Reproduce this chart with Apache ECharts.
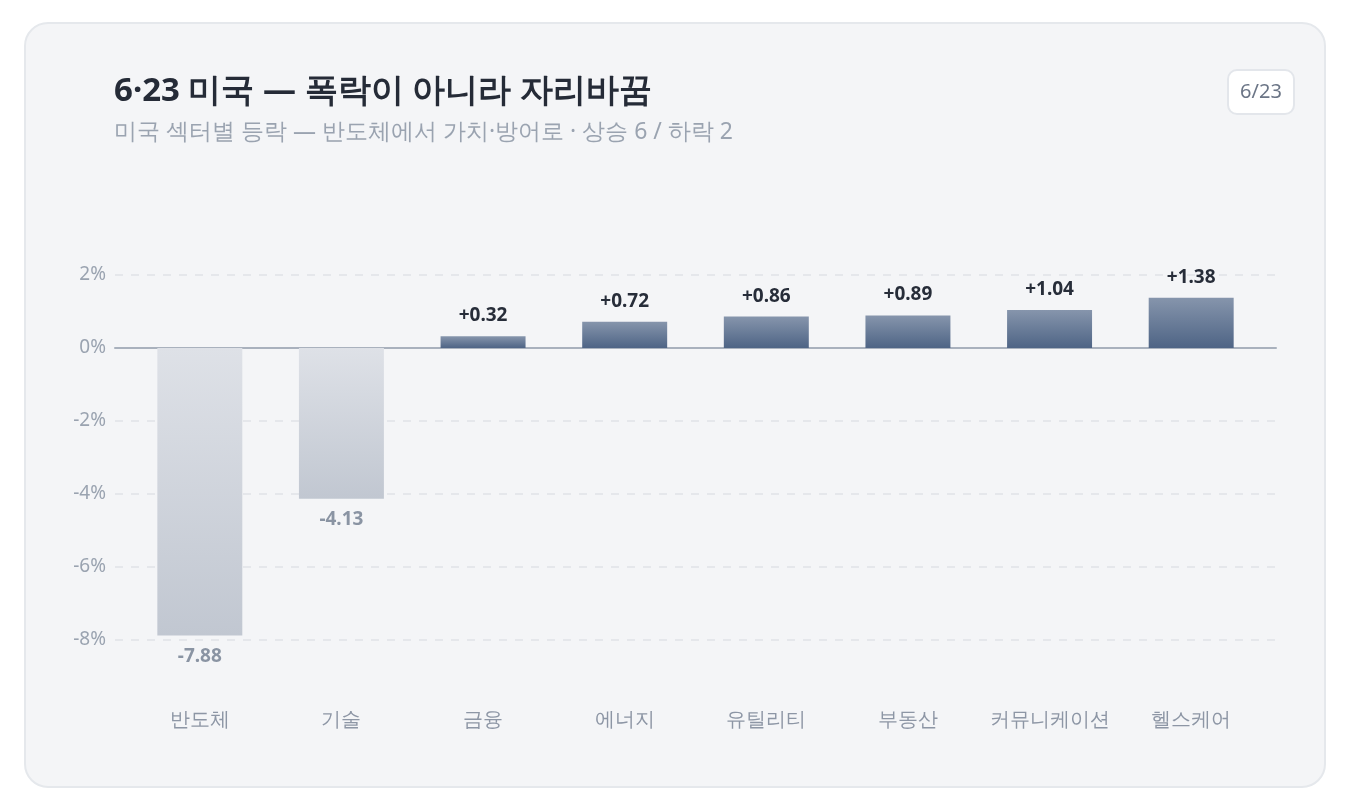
<!DOCTYPE html>
<html>
<head>
<meta charset="utf-8">
<script src="https://cdn.jsdelivr.net/npm/echarts@6/dist/echarts.min.js"></script>
<style>
  html, body { margin: 0; padding: 0; background: #ffffff; }
  .card {
    position: absolute; left: 24px; top: 22px;
    width: 1298px; height: 762px;
    border: 2px solid #e5e8ec; border-radius: 24px;
    background: #f4f5f7;
  }
  #chart { position: absolute; left: 0; top: 0; width: 1350px; height: 810px; }
</style>
</head>
<body>
<div class="card"></div>
<div id="chart"></div>
<script>
// 섹터별 등락 (%)
const sectors = ["반도체", "기술", "금융", "에너지", "유틸리티", "부동산", "커뮤니케이션", "헬스케어"];
const changes = [-7.88, -4.13, 0.32, 0.72, 0.86, 0.89, 1.04, 1.38];
const yTicks = [-10, -8, -6, -4, -2, 0, 2];

const FONT = '"Noto Sans", sans-serif';

const chart = echarts.init(document.getElementById("chart"));

const upColor = new echarts.graphic.LinearGradient(0, 0, 0, 1, [
  { offset: 0, color: "#8695ac" },
  { offset: 1, color: "#4e6485" }
]);
const downColor = new echarts.graphic.LinearGradient(0, 0, 0, 1, [
  { offset: 0, color: "#dee1e7" },
  { offset: 1, color: "#c1c7d1" }
]);

const barData = changes.map(v => ({
  value: v,
  itemStyle: { color: v >= 0 ? upColor : downColor },
  label: {
    position: v >= 0 ? "top" : "bottom",
    color: v >= 0 ? "#272d39" : "#8a94a3",
    formatter: (v >= 0 ? "+" : "") + v.toFixed(2)
  }
}));

const yRange = { min: yTicks[0], max: yTicks[yTicks.length - 1], interval: 2 };

const option = {
  textStyle: { fontFamily: FONT },
  graphic: [
    { type: "text", left: 114, top: 75,
      style: { text: "6·23 미국 — 폭락이 아니라 자리바꿈", fontFamily: FONT, fontSize: 33, fontWeight: "bold", fill: "#252b37" } },
    { type: "text", left: 114, top: 121,
      style: { text: "미국 섹터별 등락 — 반도체에서 가치·방어로 · 상승 6 / 하락 2", fontFamily: FONT, fontSize: 23, fill: "#9aa3b0" } },
    { type: "group", left: 1227, top: 69,
      children: [
        { type: "rect", shape: { x: 0, y: 0, width: 66, height: 44, r: 9 },
          style: { fill: "#ffffff", stroke: "#e3e6eb", lineWidth: 2 } },
        { type: "text", x: 33, y: 22,
          style: { text: "6/23", fontFamily: FONT, fontSize: 20, fill: "#6b7586", align: "center", verticalAlign: "middle" } }
      ] }
  ],
  // 0: 격자선·0선용 (넓은 영역), 1: 막대용
  grid: [
    { left: 115, right: 74, top: 275, bottom: 97 },
    { left: 129, right: 88, top: 275, bottom: 97 }
  ],
  xAxis: [
    { type: "category", gridIndex: 0, data: sectors,
      axisLine: { show: true, onZero: true, lineStyle: { color: "#a9b1bd", width: 2 } },
      axisTick: { show: false }, axisLabel: { show: false } },
    { type: "category", gridIndex: 1, data: sectors,
      axisLine: { show: false, onZero: false },
      axisTick: { show: false },
      axisLabel: { color: "#8d96a5", fontSize: 20, margin: -3, interval: 0 } }
  ],
  yAxis: [
    Object.assign({ type: "value", gridIndex: 0 }, yRange, {
      axisLine: { show: false }, axisTick: { show: false },
      axisLabel: { color: "#9aa3b0", fontSize: 19, margin: 9,
        formatter: v => (v === yTicks[0] ? "" : v + "%") },
      splitLine: { lineStyle: { type: [8, 8], width: 1.5,
        color: ["transparent", "#dfe2e7", "#dfe2e7", "#dfe2e7", "#dfe2e7", "transparent", "#dfe2e7"] } }
    }),
    Object.assign({ type: "value", gridIndex: 1 }, yRange, {
      axisLine: { show: false }, axisTick: { show: false },
      axisLabel: { show: false }, splitLine: { show: false }
    })
  ],
  series: [{
    type: "bar",
    xAxisIndex: 1, yAxisIndex: 1,
    data: barData,
    barWidth: "60%",
    label: { show: true, distance: 11, fontSize: 19, fontWeight: "bold", fontFamily: FONT },
    z: 3
  }]
};

chart.setOption(option);
</script>
</body>
</html>
